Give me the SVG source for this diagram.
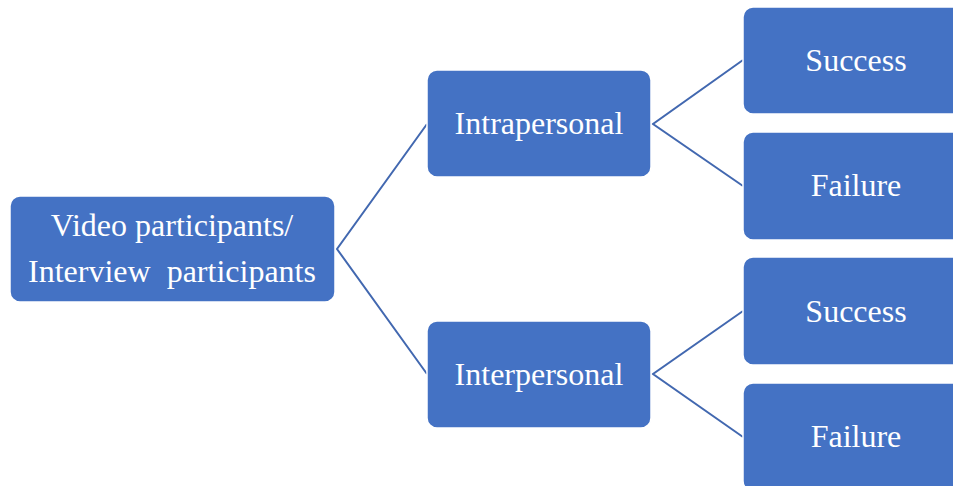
<svg xmlns="http://www.w3.org/2000/svg" width="953" height="486" viewBox="0 0 953 486">
<style>
.box{fill:#4472C4;stroke:#ffffff;stroke-width:1.5}
.lbl{fill:#ffffff;font-family:"Liberation Serif","Times New Roman",serif;font-size:32px;text-anchor:middle}
.conn{stroke:#4268B0;stroke-width:2;fill:none}
</style>
<rect width="953" height="486" fill="#ffffff"/>
<g id="connectors">
<polyline class="conn" points="427,124 337,249 427,374"/>
<polyline class="conn" points="743,60 653,124 743,186"/>
<polyline class="conn" points="743,311 653,374 743,437"/>
</g>
<g id="root">
<rect class="box" x="10" y="196" width="325" height="106" rx="10"/>
<text class="lbl" x="172" y="236">Video participants/</text>
<text class="lbl" x="172" y="282" xml:space="preserve">Interview  participants</text>
</g>
<g id="intrapersonal">
<rect class="box" x="427" y="70" width="224" height="107" rx="10"/>
<text class="lbl" x="539" y="134">Intrapersonal</text>
</g>
<g id="interpersonal">
<rect class="box" x="427" y="321" width="224" height="107" rx="10"/>
<text class="lbl" x="539" y="385">Interpersonal</text>
</g>
<g id="success1">
<rect class="box" x="743" y="7" width="224" height="107" rx="10"/>
<text class="lbl" x="856" y="71">Success</text>
</g>
<g id="failure1">
<rect class="box" x="743" y="132" width="224" height="108" rx="10"/>
<text class="lbl" x="856" y="196">Failure</text>
</g>
<g id="success2">
<rect class="box" x="743" y="257" width="224" height="108" rx="10"/>
<text class="lbl" x="856" y="322">Success</text>
</g>
<g id="failure2">
<rect class="box" x="743" y="383" width="224" height="108" rx="10"/>
<text class="lbl" x="856" y="447">Failure</text>
</g>
</svg>
